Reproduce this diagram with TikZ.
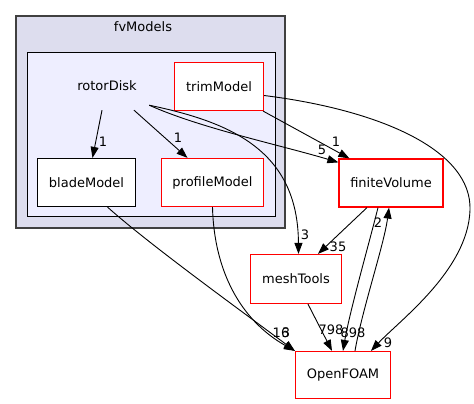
\documentclass[tikz,border=0pt]{standalone}
\usepackage{fontspec}
\setmainfont{DejaVu Sans}
\usepackage{tikz}
\usetikzlibrary{arrows.meta,positioning}
\definecolor{dgclusterout}{RGB}{221,221,238}
\definecolor{dgclusterin}{RGB}{238,238,255}
\definecolor{dgborder}{RGB}{64,64,64}
\definecolor{dgred}{RGB}{255,0,0}
\tikzstyle{dirbox} = [rectangle, minimum height=48pt, text centered, draw=dgred, fill=white, line width=1.2pt, font=\fontsize{13}{15}\selectfont]
\tikzstyle{plainbox} = [rectangle, minimum height=48pt, text centered, draw=black, fill=white, line width=1.2pt, font=\fontsize{13}{15}\selectfont]
\tikzstyle{arrow} = [line width=0.9pt,-{Triangle[length=11pt,width=8pt]}]
\tikzstyle{count} = [font=\fontsize{13}{15}\selectfont, inner sep=0pt]

\begin{document}
\begin{tikzpicture}[x=1pt,y=-1pt]
\useasboundingbox (0,0) rectangle (474,404);
% Clusters
\draw[draw=dgborder, fill=dgclusterout, line width=1.5pt] (16,16) rectangle (285,228);
\node[count] (fvlabel) at (143,27) {fvModels};
\draw[draw=black, fill=dgclusterin, line width=1pt] (27.5,52.5) rectangle (275.5,216.5);

% Directory nodes
\node (finvol) [dirbox, minimum width=104pt] at (391,183) {finiteVolume};
\node (rotor) [minimum width=90pt, minimum height=48pt, font=\fontsize{13}{15}\selectfont] at (107,86) {rotorDisk};
\node (trim) [dirbox, minimum width=89pt] at (219,86.5) {trimModel};
\node (blade) [plainbox, minimum width=98pt] at (86.5,182.5) {bladeModel};
\node (prof) [dirbox, minimum width=102pt] at (212.5,182.5) {profileModel};
\node (mesh) [dirbox, minimum width=91pt, minimum height=49pt] at (296,279) {meshTools};
\node (of) [dirbox, minimum width=95pt, minimum height=47pt] at (343,375) {OpenFOAM};

% Arrows
\draw[arrow] ([xshift=-5pt]rotor.south) -- ([xshift=6pt]blade.north);
\draw[arrow] ([xshift=27pt]rotor.south) -- ([xshift=-25pt]prof.north);
\draw[arrow] ([xshift=-3pt,yshift=5pt]rotor.south east) .. controls (200,128) and (280,145) .. ([yshift=-4pt]finvol.north west);
\draw[arrow] ([xshift=-3pt,yshift=5pt]rotor.south east) .. controls (230,122) and (298,150) .. ([xshift=2.5pt]mesh.north);
\draw[arrow] ([xshift=-1pt]trim.south east) -- ([xshift=11pt]finvol.north west);
\draw[arrow] ([yshift=-9pt]trim.east) .. controls (380,110) and (472,150) .. (470,210) .. controls (468,270) and (400,320) .. ([xshift=28pt]of.north);
\draw[arrow] ([xshift=21pt]blade.south) .. controls (150,245) and (240,310) .. (of.north west);
\draw[arrow] (prof.south) .. controls (214,270) and (240,320) .. (of.north west);
\draw[arrow] ([xshift=-24pt]finvol.south) -- ([xshift=22pt]mesh.north);
\draw[arrow] ([xshift=-13pt]finvol.south) .. controls (370,240) and (350,310) .. (of.north);
\draw[arrow] ([xshift=12pt]of.north) .. controls (362,310) and (384,245) .. ([xshift=-2pt]finvol.south);
\draw[arrow] ([xshift=12pt]mesh.south) -- ([xshift=-11pt]of.north);

% Counts
\node[count] (c1) at (103,142) {1};
\node[count] (c2) at (178,138) {1};
\node[count] (c3) at (322,150) {5};
\node[count] (c4) at (305,235) {3};
\node[count] (c5) at (336,142) {1};
\node[count] (c6) at (388,343) {9};
\node[count] (c7) at (281,333) {16};
\node[count] (c8) at (286,333) {3};
\node[count] (c9) at (338,247) {35};
\node[count] (c10) at (353,333) {898};
\node[count] (c11) at (378,223) {2};
\node[count] (c12) at (331,330) {798};
\end{tikzpicture}
\end{document}
